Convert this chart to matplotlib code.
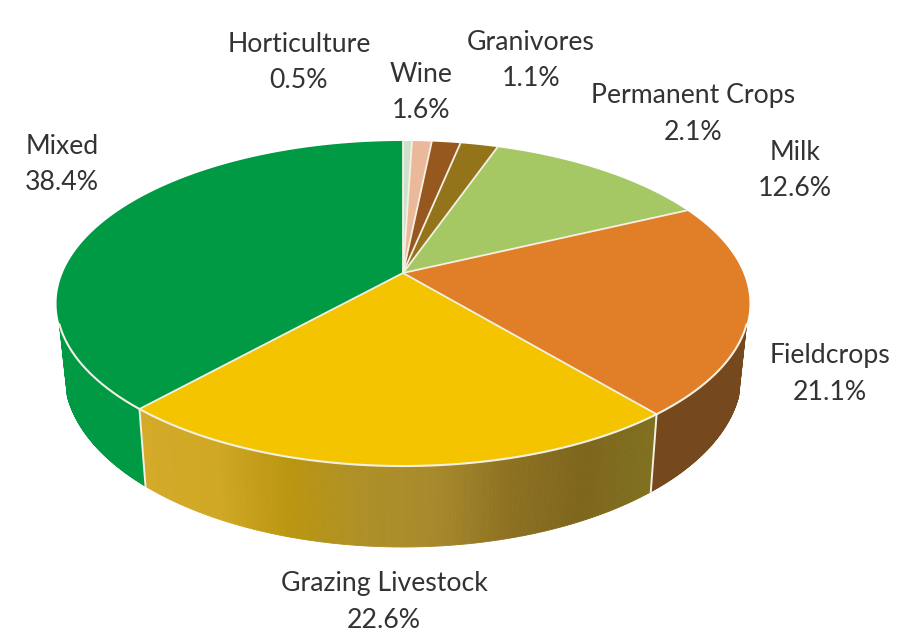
import numpy as np
import matplotlib
matplotlib.use("Agg")
import matplotlib.pyplot as plt
from matplotlib.collections import PolyCollection
from matplotlib.colors import LinearSegmentedColormap
from matplotlib.patches import Polygon

# slices clockwise from 12 o'clock
categories = ["Horticulture", "Granivores", "Wine", "Permanent Crops", "Milk",
              "Fieldcrops", "Grazing Livestock", "Mixed"]
values = [0.5, 1.1, 1.6, 2.1, 12.6, 21.1, 22.6, 38.4]
tick_labels = ["0.5%", "1.1%", "1.6%", "2.1%", "12.6%", "21.1%", "22.6%", "38.4%"]

top_colours = ["#CFE1CC", "#EBB999", "#97581F", "#93741A", "#A5C864",
               "#E07F28", "#F5C400", "#009A44"]
side_colours = {
    "Fieldcrops": ["#76481E", "#76481E"],
    "Grazing Livestock": ["#D4AA28", "#D0A824", "#BA9610", "#AE9028", "#A88A2C",
                          "#8E7222", "#7E661C", "#80701F"],
    "Mixed": ["#009A44", "#009A44"],
}
label_centres = [(299, 62), (531, 60), (421, 93), (693, 114), (795, 170),
                 (830, 374), (384, 602), (62, 165)]

edge = "#F4F1E4"
text_colour = "#333333"

plt.rcParams["font.family"] = ["Lato", "DejaVu Sans"]


# perspective view of a flat disc, u to the right and v towards the viewer
def top_face(theta):
    u, v = np.sin(theta), -np.cos(theta)
    w = 1 - 0.1877 * v
    return 403 + 340.3 * u / w, 273 + 156.8 * v / w


def bottom_face(theta):
    u, v = np.sin(theta), -np.cos(theta)
    w = 1 - 0.1877 * v
    return 403 + 332.5 * u / w, 341.4 + 167 * v / w


fig = plt.figure(figsize=(9.12, 6.37), dpi=100)
ax = fig.add_axes([0, 0, 1, 1])
ax.set_xlim(0, 912)
ax.set_ylim(637, 0)
ax.axis("off")

edges = np.radians(np.concatenate([[0], np.cumsum(values)]) * 3.6)
# the wall only shows on this front part of the rim
front_start, front_end = np.radians(108), np.radians(252)

# side wall first, the top face then goes over it
for i, name in enumerate(categories):
    if name not in side_colours:
        continue
    a, b = max(edges[i], front_start), min(edges[i + 1], front_end)
    thetas = np.linspace(a, b, 160)
    tx, ty = top_face(thetas)
    bx, by = bottom_face(thetas)
    quads = [[(tx[j], ty[j]), (tx[j + 1], ty[j + 1]), (bx[j + 1], by[j + 1]), (bx[j], by[j])]
             for j in range(len(thetas) - 1)]
    cmap = LinearSegmentedColormap.from_list(name, side_colours[name])
    xs = (tx[:-1] + bx[:-1]) / 2
    pos = (xs - xs.min()) / (xs.max() - xs.min())
    ax.add_collection(PolyCollection(quads, facecolors=cmap(pos), edgecolors="face",
                                     linewidths=0.6, zorder=2))

for t in edges:
    if front_start < t < front_end:
        x0, y0 = top_face(t)
        x1, y1 = bottom_face(t)
        ax.plot([x0, x1], [y0, y1], color=edge, lw=1.4, zorder=3)

# top face
for i, colour in enumerate(top_colours):
    thetas = np.linspace(edges[i], edges[i + 1], 120)
    x, y = top_face(thetas)
    pts = np.column_stack([np.r_[403, x], np.r_[273, y]])
    ax.add_patch(Polygon(pts, closed=True, facecolor=colour, edgecolor="none", zorder=4))

for t in edges[:-1]:
    x, y = top_face(t)
    ax.plot([403, x], [273, y], color=edge, lw=1.3, zorder=5)

rim = np.linspace(front_start, front_end, 200)
ax.plot(*top_face(rim), color=edge, lw=1.5, zorder=5)

for name, pct, (cx, cy) in zip(categories, tick_labels, label_centres):
    ax.text(cx, cy, name + "\n" + pct, ha="center", va="center", fontsize=19.2,
            color=text_colour, linespacing=1.55, zorder=6)

fig.savefig("out.png", dpi=100, facecolor="white")
